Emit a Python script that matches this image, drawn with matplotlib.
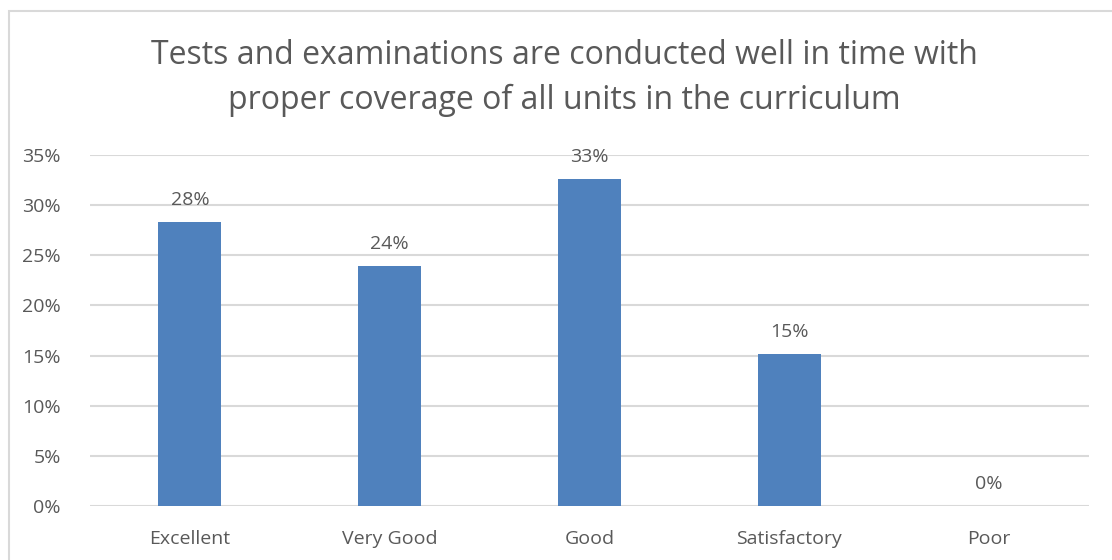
import matplotlib.pyplot as plt
from matplotlib.patches import Rectangle

categories = ['Excellent', 'Very Good', 'Good', 'Satisfactory', 'Poor']
values = [28.3, 23.9, 32.6, 15.2, 0.0]
labels = ['28%', '24%', '33%', '15%', '0%']
yticks = [0, 5, 10, 15, 20, 25, 30, 35]

plt.rcParams['font.family'] = ['Open Sans', 'DejaVu Sans']
txt = '#595959'

fig = plt.figure(figsize=(11.12, 5.6), dpi=100)
ax = fig.add_axes([90 / 1112, 1 - 506 / 560, 999 / 1112, 351 / 560])

# chart border
fig.patches.append(Rectangle((9 / 1112, -0.01), 1.1, 1 - 11 / 560 + 0.01,
                             transform=fig.transFigure, fill=False,
                             edgecolor='#d9d9d9', linewidth=1.5))

x = range(len(categories))
ax.bar(x, values, width=0.315, color='#4f81bd', zorder=3)
for i, v in enumerate(values):
    ax.text(i, v + 1.3, labels[i], ha='center', va='bottom', fontsize=14, color=txt)

ax.set_xlim(-0.5, len(categories) - 0.5)
ax.set_ylim(0, 35)
ax.set_yticks(yticks)
ax.set_yticklabels([f'{t}%' for t in yticks], fontsize=14, color=txt)
ax.set_xticks(list(x))
ax.set_xticklabels(categories, fontsize=14, color=txt)
ax.tick_params(axis='x', length=0, pad=17)
ax.tick_params(axis='y', length=0, pad=21)
ax.grid(axis='y', color='#d9d9d9', linewidth=1.5, zorder=0)
for s in ax.spines.values():
    s.set_visible(False)

fig.text(564 / 1112, 1 - 78 / 560,
         'Tests and examinations are conducted well in time with\nproper coverage of all units in the curriculum',
         ha='center', va='center', fontsize=23, color=txt, linespacing=1.5)

fig.savefig('out.png', dpi=100)
